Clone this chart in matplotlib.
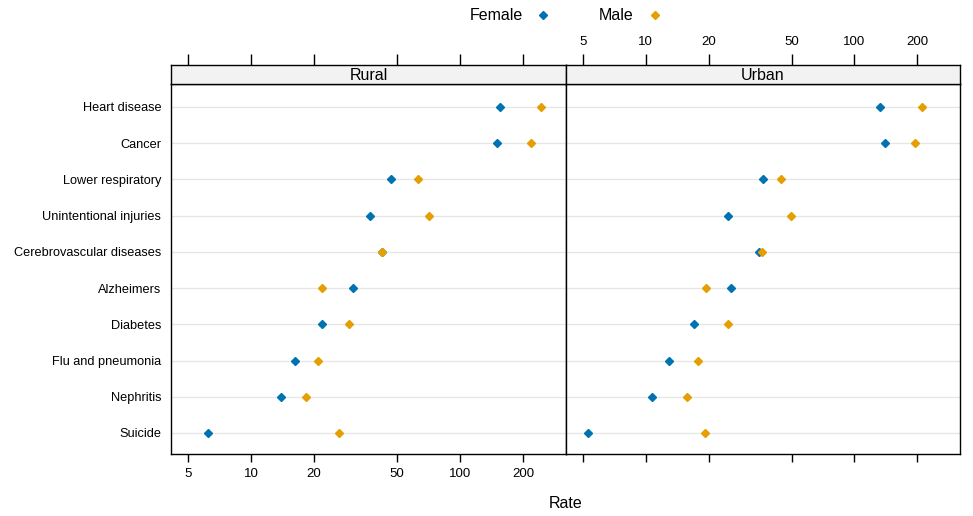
import matplotlib.pyplot as plt
from matplotlib.lines import Line2D
import numpy as np

causes = ["Heart disease", "Cancer", "Lower respiratory", "Unintentional injuries",
          "Cerebrovascular diseases", "Alzheimers", "Diabetes", "Flu and pneumonia",
          "Nephritis", "Suicide"]

rural_female = [154.9, 150.8, 46.9, 37.2, 42.2, 30.6, 21.8, 16.3, 13.9, 6.2]
rural_male = [242.7, 219.3, 62.8, 71.3, 42.2, 21.8, 29.5, 20.8, 18.3, 26.3]
urban_female = [132.5, 140.2, 36.5, 24.7, 34.9, 25.5, 17.1, 12.9, 10.7, 5.3]
urban_male = [210.2, 195.9, 44.5, 49.6, 36.1, 19.4, 24.9, 17.7, 15.7, 19.2]

ticks = [5, 10, 20, 50, 100, 200]
col_f = "#0072B2"
col_m = "#E69F00"

plt.rcParams['font.family'] = ['Liberation Sans', 'DejaVu Sans']

W, H = 973, 516
fig = plt.figure(figsize=(W / 100, H / 100), dpi=100)

x0, xm, x1 = 171, 566, 960
ytop, ybot = 84, 454
strip_top = 65

def fx(p):
    return p / W

def fy(p):
    return 1 - p / H

panels = [("Rural", rural_female, rural_male, x0, xm),
          ("Urban", urban_female, urban_male, xm, x1)]

ypos = np.arange(len(causes))
for i, (name, fem, male, a, b) in enumerate(panels):
    ax = fig.add_axes([fx(a), fy(ybot), fx(b - a), fy(ytop) - fy(ybot)])
    ax.set_xscale('log')
    ax.set_xlim(4.14, 321)
    ax.set_ylim(len(causes) - 0.42, -0.63)
    for y in ypos:
        ax.axhline(y, color='#e6e6e6', lw=0.9, zorder=0)
    ax.plot(fem, ypos, 'D', color=col_f, ms=3.8, ls='none', zorder=3)
    ax.plot(male, ypos, 'D', color=col_m, ms=3.8, ls='none', zorder=3)
    ax.xaxis.set_minor_locator(plt.NullLocator())
    ax.set_xticks(ticks)
    ax.set_xticklabels([str(t) for t in ticks] if i == 0 else [])
    ax.tick_params(axis='x', direction='out', length=6, width=1, labelsize=9.5, pad=4, top=False)
    ax.set_yticks(ypos)
    if i == 0:
        ax.set_yticklabels(causes, fontsize=9.2)
        ax.tick_params(axis='y', length=0, pad=7)
    else:
        ax.set_yticks([])
    for s in ax.spines.values():
        s.set_linewidth(1)

    # strip with top axis
    sx = fig.add_axes([fx(a), fy(ytop), fx(b - a), fy(strip_top) - fy(ytop)])
    sx.set_facecolor('#f2f2f2')
    sx.set_xscale('log')
    sx.set_xlim(4.14, 321)
    sx.set_yticks([])
    sx.xaxis.set_minor_locator(plt.NullLocator())
    sx.xaxis.tick_top()
    sx.set_xticks(ticks)
    sx.set_xticklabels([str(t) for t in ticks] if i == 1 else [])
    sx.tick_params(axis='x', direction='out', length=8, width=1, labelsize=9.5, pad=4, bottom=False)
    sx.text(0.5, 0.45, name, transform=sx.transAxes, ha='center', va='center', fontsize=11.5)
    for s in sx.spines.values():
        s.set_linewidth(1)

fig.text(fx(566), fy(504), "Rate", ha='center', va='center', fontsize=11.5)

handles = [Line2D([], [], marker='D', color=col_f, ls='none', ms=3.8),
           Line2D([], [], marker='D', color=col_m, ls='none', ms=3.8)]
fig.legend(handles, ["Female", "Male"], loc='center', bbox_to_anchor=(fx(566), fy(16)),
           ncol=2, frameon=False, markerfirst=False, fontsize=11.5, columnspacing=3,
           handletextpad=0.8, handlelength=1)

fig.savefig("out.png", dpi=100)
